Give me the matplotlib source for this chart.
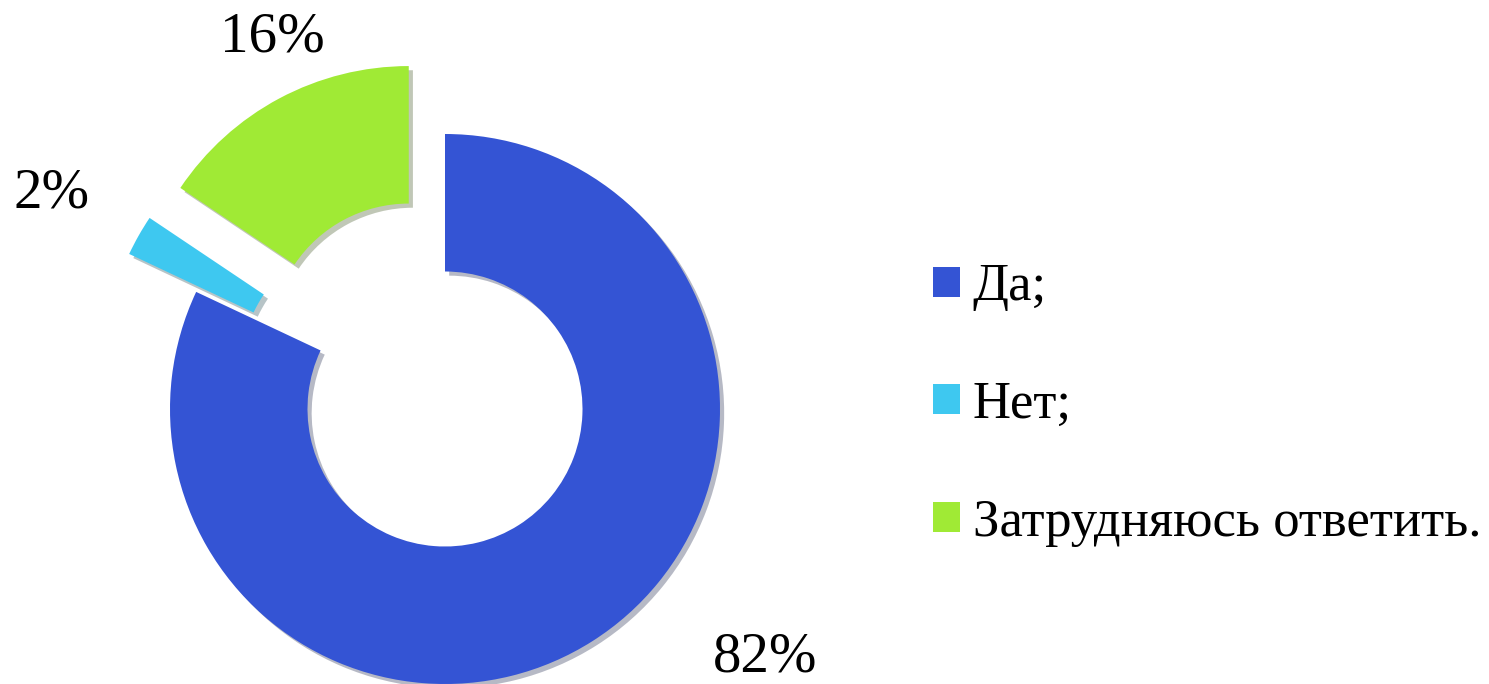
import matplotlib
matplotlib.use("Agg")
import matplotlib.pyplot as plt
import matplotlib.patheffects as pe

# data
names = ["Да;", "Нет;", "Затрудняюсь ответить."]
values = [82, 2.4, 15.6]
colors = ["#3454d4", "#3ec8f0", "#a0ea35"]
explode = [0, 0.28, 0.28]  # fraction of the radius

plt.rcParams["font.family"] = "serif"
plt.rcParams["font.serif"] = ["Liberation Serif", "DejaVu Serif"]

W, H = 1489, 684
fig = plt.figure(figsize=(W / 100, H / 100), dpi=100)
ax = fig.add_axes([0, 0, 1, 1])

cx, cy, r = 445, H - 409, 275
wedges, _ = ax.pie(values, colors=colors, explode=[e * r for e in explode],
                   startangle=90, counterclock=False, radius=r, center=(cx, cy),
                   wedgeprops=dict(width=r * 0.5, linewidth=0))
for w in wedges:
    w.set_path_effects([pe.SimplePatchShadow(offset=(3, -3), alpha=0.3), pe.Normal()])

ax.set_xlim(0, W)
ax.set_ylim(0, H)
ax.set_aspect("equal")
ax.axis("off")

# percentage labels
label_pos = [(765, 657), (52, 193), (272, 38)]
for v, (x, y) in zip(values, label_pos):
    ax.text(x, H - y, f"{round(v)}%", fontsize=41, ha="center", va="center")

leg = ax.legend(wedges, names, loc="center left", bbox_to_anchor=(912 / W, 1 - 405 / H),
                frameon=False, fontsize=38, handlelength=0.5, handleheight=0.5,
                handletextpad=0.25, labelspacing=1.32, borderaxespad=0)
for h in leg.legend_handles:
    h.set_path_effects([])

fig.savefig("out.png", dpi=100)
